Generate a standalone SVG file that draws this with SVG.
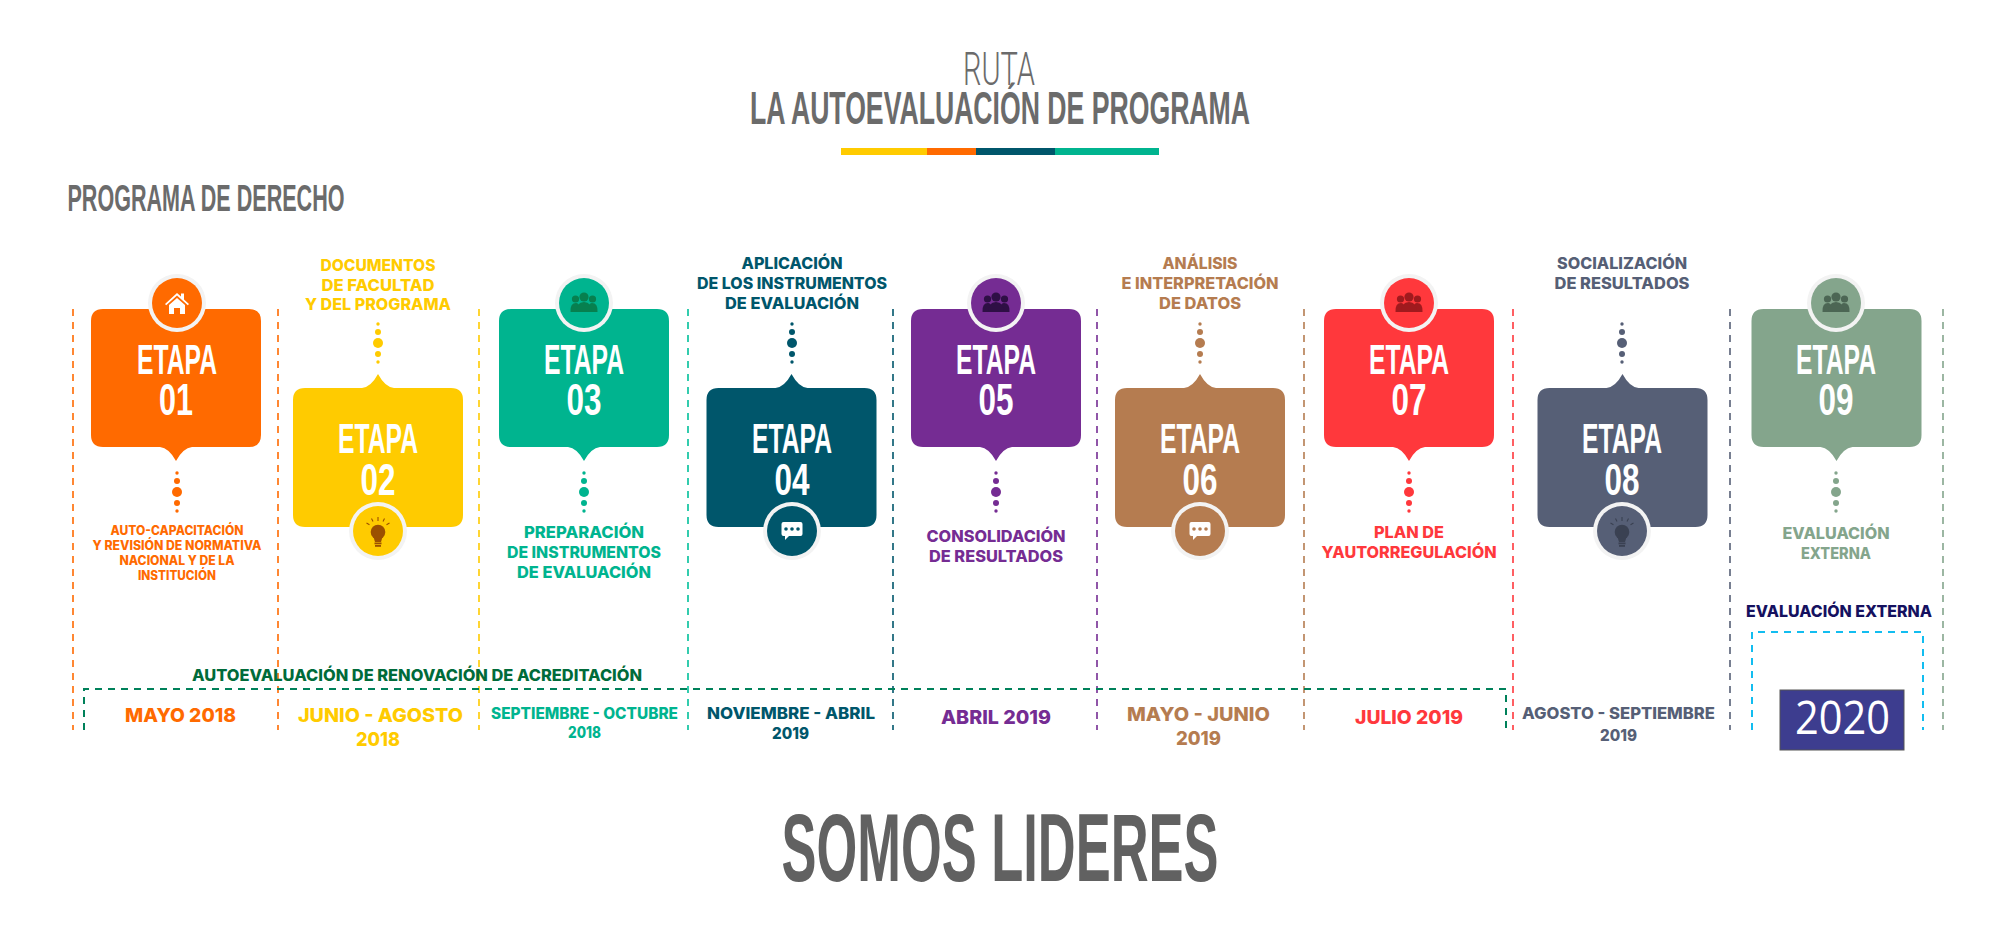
<svg xmlns="http://www.w3.org/2000/svg" xmlns:xlink="http://www.w3.org/1999/xlink" width="2000" height="948" viewBox="0 0 2000 948">
<style>
.h{font-family:"Liberation Sans Narrow","Liberation Sans",sans-serif;font-weight:700;text-anchor:middle}
.et{font-size:42px;fill:#fff}
.no{font-size:44px;fill:#fff}
.m{font-family:Inter,"Liberation Sans",sans-serif;font-weight:800;text-anchor:middle}
.s{font-size:16px}.xs{font-size:12.5px}.d{font-size:19px}.ds{font-size:15.5px}
.dash{fill:none;stroke-width:1.6;stroke-dasharray:7 6}
.ring{fill:#f3f3f3}
.c1{fill:#ff6a00}.c2{fill:#ffcb00}.c3{fill:#00b48f}.c4{fill:#00566b}.c5{fill:#752c93}.c6{fill:#b57c50}.c7{fill:#ff383c}.c8{fill:#565f76}.c9{fill:#84a58c}
</style>
<defs>
<path id="boxdown" d="M-73 309H73Q85 309 85 321V435Q85 447 73 447H16Q7 448 0 461Q-7 448 -16 447H-73Q-85 447 -85 435V321Q-85 309 -73 309Z"/>
<path id="boxup" d="M-73 388H-16Q-7 387 0 374Q7 387 16 388H73Q85 388 85 400V515Q85 527 73 527H-73Q-85 527 -85 515V400Q-85 388 -73 388Z"/>
<g id="dots"><circle cy="-19" r="1.7"/><circle cy="-11" r="3"/><circle r="5"/><circle cy="11" r="3"/><circle cy="19" r="1.7"/></g>
<g id="people"><circle cx="-8.5" cy="-4" r="3.6"/><circle cx="8.5" cy="-4" r="3.6"/><path d="M-13.5 9Q-14 0 -8 0Q-5 0 -5 4V9Z"/><path d="M13.5 9Q14 0 8 0Q5 0 5 4V9Z"/><circle cy="-6" r="4.6"/><path d="M-7 9Q-8 -1 0 -1Q8 -1 7 9Z"/></g>
<g id="bulb"><circle cy="1" r="7.3"/><path d="M-4.5 6H4.5L3 11H-3Z"/><rect x="-3.5" y="11.5" width="7" height="1.8"/><rect x="-3" y="14" width="6" height="1.8"/><path d="M0 -14V-10M-6.5 -12.5L-5 -9.5M6.5 -12.5L5 -9.5M-11.5 -8L-8.5 -6.3M11.5 -8L8.5 -6.3" fill="none" stroke="currentColor" stroke-width="1.1"/></g>
<g id="chat"><path d="M-8.5 -8H8.5Q10.5 -8 10.5 -6V4Q10.5 6 8.5 6H-3L-7 10V6H-8.5Q-10.5 6 -10.5 4V-6Q-10.5 -8 -8.5 -8Z" fill="#fff"/><circle cx="-6" cy="-1" r="1.8"/><circle cy="-1" r="1.8"/><circle cx="6" cy="-1" r="1.8"/></g>
</defs>
<rect width="2000" height="948" fill="#fff"/>

<g id="titulo">
<text x="999" y="85" text-anchor="middle" font-family="Roboto,'Liberation Sans',sans-serif" font-weight="300" font-size="46" fill="#6b6b6b" textLength="72" lengthAdjust="spacingAndGlyphs">RUTA</text>
<text x="1000" y="124" class="h" style="font-size:46px" fill="#6b6b6b" textLength="500" lengthAdjust="spacingAndGlyphs">LA AUTOEVALUACIÓN DE PROGRAMA</text>
<rect x="841" y="148" width="86" height="7" class="c2"/><rect x="927" y="148" width="49" height="7" class="c1"/><rect x="976" y="148" width="79" height="7" class="c4"/><rect x="1055" y="148" width="104" height="7" class="c3"/>
<text x="206" y="211" class="h" style="font-size:36px" fill="#6b6b6b" textLength="277" lengthAdjust="spacingAndGlyphs">PROGRAMA DE DERECHO</text>
</g>

<g id="conectores" class="dash">
<path d="M73 309V730" stroke="#ff6a00"/><path d="M278 309V730" stroke="#ff6a00"/><path d="M479 309V730" stroke="#ffcb00"/><path d="M688 309V730" stroke="#00c09a"/><path d="M893 309V730" stroke="#00566b"/><path d="M1097 309V730" stroke="#752c93"/><path d="M1304 309V730" stroke="#b57c50"/><path d="M1513 309V730" stroke="#ff383c"/><path d="M1730 309V730" stroke="#565f76"/><path d="M1943 309V730" stroke="#84a58c"/>
<path d="M84 730V689H1506V730" stroke="#00815a" stroke-width="2"/>
<path d="M1752 730V632H1923V730" stroke="#12bdf0" stroke-width="2"/>
</g>

<g id="etapa01"><use xlink:href="#boxdown" href="#boxdown" x="176" class="c1"/><circle cx="177" cy="303" r="29" class="ring"/><circle cx="177" cy="303" r="25" class="c1"/>
<path d="M165 304L177 293L181 296.5V293.5H184V299.5L189 304L187.8 305.2L177 295.5L166.2 305.2ZM169 305L177 298L185 305V314H180V308H174V314H169Z" fill="#fff"/>
<text x="177" y="374" class="h et" textLength="80" lengthAdjust="spacingAndGlyphs">ETAPA</text><text x="176" y="415" class="h no" textLength="34" lengthAdjust="spacingAndGlyphs">01</text>
<use xlink:href="#dots" href="#dots" x="177" y="492" class="c1"/>
<g class="m xs c1"><text x="177" y="535" textLength="133" lengthAdjust="spacingAndGlyphs">AUTO-CAPACITACIÓN</text><text x="177" y="550" textLength="169" lengthAdjust="spacingAndGlyphs">Y REVISIÓN DE NORMATIVA</text><text x="177" y="565" textLength="115" lengthAdjust="spacingAndGlyphs">NACIONAL Y DE LA</text><text x="177" y="580" textLength="78" lengthAdjust="spacingAndGlyphs">INSTITUCIÓN</text></g></g>

<g id="etapa02"><use xlink:href="#boxup" href="#boxup" x="378" class="c2"/><circle cx="378" cy="531" r="29" class="ring"/><circle cx="378" cy="531" r="25" class="c2"/>
<use xlink:href="#bulb" href="#bulb" x="378" y="531" fill="#9c5000" color="#9c5000"/>
<text x="378" y="453" class="h et" textLength="80" lengthAdjust="spacingAndGlyphs">ETAPA</text><text x="378" y="495" class="h no" textLength="35" lengthAdjust="spacingAndGlyphs">02</text>
<use xlink:href="#dots" href="#dots" x="378" y="343" class="c2"/>
<g class="m s c2"><text x="378" y="271" textLength="115" lengthAdjust="spacingAndGlyphs">DOCUMENTOS</text><text x="378" y="291" textLength="113" lengthAdjust="spacingAndGlyphs">DE FACULTAD</text><text x="378" y="310" textLength="146" lengthAdjust="spacingAndGlyphs">Y DEL PROGRAMA</text></g></g>

<g id="etapa03"><use xlink:href="#boxdown" href="#boxdown" x="584" class="c3"/><circle cx="584" cy="303" r="29" class="ring"/><circle cx="584" cy="303" r="25" class="c3"/>
<use xlink:href="#people" href="#people" x="584" y="303" fill="#07804f"/>
<text x="584" y="374" class="h et" textLength="80" lengthAdjust="spacingAndGlyphs">ETAPA</text><text x="584" y="415" class="h no" textLength="35" lengthAdjust="spacingAndGlyphs">03</text>
<use xlink:href="#dots" href="#dots" x="584" y="492" class="c3"/>
<g class="m s c3"><text x="584" y="538" textLength="120" lengthAdjust="spacingAndGlyphs">PREPARACIÓN</text><text x="584" y="558" textLength="154" lengthAdjust="spacingAndGlyphs">DE INSTRUMENTOS</text><text x="584" y="578" textLength="134" lengthAdjust="spacingAndGlyphs">DE EVALUACIÓN</text></g></g>

<g id="etapa04"><use xlink:href="#boxup" href="#boxup" x="791.5" class="c4"/><circle cx="792" cy="531" r="29" class="ring"/><circle cx="792" cy="531" r="25" class="c4"/>
<use xlink:href="#chat" href="#chat" x="792" y="530" fill="#00566b"/>
<text x="792" y="453" class="h et" textLength="80" lengthAdjust="spacingAndGlyphs">ETAPA</text><text x="792" y="495" class="h no" textLength="35" lengthAdjust="spacingAndGlyphs">04</text>
<use xlink:href="#dots" href="#dots" x="792" y="343" class="c4"/>
<g class="m s c4"><text x="792" y="269" textLength="101" lengthAdjust="spacingAndGlyphs">APLICACIÓN</text><text x="792" y="289" textLength="190" lengthAdjust="spacingAndGlyphs">DE LOS INSTRUMENTOS</text><text x="792" y="309" textLength="134" lengthAdjust="spacingAndGlyphs">DE EVALUACIÓN</text></g></g>

<g id="etapa05"><use xlink:href="#boxdown" href="#boxdown" x="996" class="c5"/><circle cx="996" cy="303" r="29" class="ring"/><circle cx="996" cy="303" r="25" class="c5"/>
<use xlink:href="#people" href="#people" x="996" y="303" fill="#2e0f45"/>
<text x="996" y="374" class="h et" textLength="80" lengthAdjust="spacingAndGlyphs">ETAPA</text><text x="996" y="415" class="h no" textLength="35" lengthAdjust="spacingAndGlyphs">05</text>
<use xlink:href="#dots" href="#dots" x="996" y="492" class="c5"/>
<g class="m s c5"><text x="996" y="542" textLength="139" lengthAdjust="spacingAndGlyphs">CONSOLIDACIÓN</text><text x="996" y="562" textLength="134" lengthAdjust="spacingAndGlyphs">DE RESULTADOS</text></g></g>

<g id="etapa06"><use xlink:href="#boxup" href="#boxup" x="1200" class="c6"/><circle cx="1200" cy="531" r="29" class="ring"/><circle cx="1200" cy="531" r="25" class="c6"/>
<use xlink:href="#chat" href="#chat" x="1200" y="530" fill="#b57c50"/>
<text x="1200" y="453" class="h et" textLength="80" lengthAdjust="spacingAndGlyphs">ETAPA</text><text x="1200" y="495" class="h no" textLength="35" lengthAdjust="spacingAndGlyphs">06</text>
<use xlink:href="#dots" href="#dots" x="1200" y="343" class="c6"/>
<g class="m s c6"><text x="1200" y="269" textLength="75" lengthAdjust="spacingAndGlyphs">ANÁLISIS</text><text x="1200" y="289" textLength="157" lengthAdjust="spacingAndGlyphs">E INTERPRETACIÓN</text><text x="1200" y="309" textLength="82" lengthAdjust="spacingAndGlyphs">DE DATOS</text></g></g>

<g id="etapa07"><use xlink:href="#boxdown" href="#boxdown" x="1409" class="c7"/><circle cx="1409" cy="303" r="29" class="ring"/><circle cx="1409" cy="303" r="25" class="c7"/>
<use xlink:href="#people" href="#people" x="1409" y="303" fill="#a01a1e"/>
<text x="1409" y="374" class="h et" textLength="80" lengthAdjust="spacingAndGlyphs">ETAPA</text><text x="1409" y="415" class="h no" textLength="35" lengthAdjust="spacingAndGlyphs">07</text>
<use xlink:href="#dots" href="#dots" x="1409" y="492" class="c7"/>
<g class="m s c7"><text x="1409" y="538" textLength="70" lengthAdjust="spacingAndGlyphs">PLAN DE</text><text x="1409" y="558" textLength="175" lengthAdjust="spacingAndGlyphs">YAUTORREGULACIÓN</text></g></g>

<g id="etapa08"><use xlink:href="#boxup" href="#boxup" x="1622.500" class="c8"/><circle cx="1622" cy="531" r="29" class="ring"/><circle cx="1622" cy="531" r="25" class="c8"/>
<use xlink:href="#bulb" href="#bulb" x="1622" y="531" fill="#3a4152" color="#3a4152"/>
<text x="1622" y="453" class="h et" textLength="80" lengthAdjust="spacingAndGlyphs">ETAPA</text><text x="1622" y="495" class="h no" textLength="35" lengthAdjust="spacingAndGlyphs">08</text>
<use xlink:href="#dots" href="#dots" x="1622" y="343" class="c8"/>
<g class="m s c8"><text x="1622" y="269" textLength="130" lengthAdjust="spacingAndGlyphs">SOCIALIZACIÓN</text><text x="1622" y="289" textLength="135" lengthAdjust="spacingAndGlyphs">DE RESULTADOS</text></g></g>

<g id="etapa09"><use xlink:href="#boxdown" href="#boxdown" x="1836.500" class="c9"/><circle cx="1836" cy="303" r="29" class="ring"/><circle cx="1836" cy="303" r="25" class="c9"/>
<use xlink:href="#people" href="#people" x="1836" y="303" fill="#4c6654"/>
<text x="1836" y="374" class="h et" textLength="80" lengthAdjust="spacingAndGlyphs">ETAPA</text><text x="1836" y="415" class="h no" textLength="35" lengthAdjust="spacingAndGlyphs">09</text>
<use xlink:href="#dots" href="#dots" x="1836" y="492" class="c9"/>
<g class="m s c9"><text x="1836" y="539" textLength="107" lengthAdjust="spacingAndGlyphs">EVALUACIÓN</text><text x="1836" y="559" textLength="70" lengthAdjust="spacingAndGlyphs">EXTERNA</text></g></g>

<g id="fechas">
<text x="417" y="681" class="m s" fill="#006b3a" textLength="450" lengthAdjust="spacingAndGlyphs">AUTOEVALUACIÓN DE RENOVACIÓN DE ACREDITACIÓN</text>
<text x="180.500" y="722" class="m d c1" textLength="111" lengthAdjust="spacingAndGlyphs">MAYO 2018</text>
<text x="380.500" y="722" class="m d c2" textLength="165" lengthAdjust="spacingAndGlyphs">JUNIO - AGOSTO</text><text x="378" y="746" class="m d c2" textLength="44" lengthAdjust="spacingAndGlyphs">2018</text>
<text x="584.500" y="719" class="m ds c3" textLength="187" lengthAdjust="spacingAndGlyphs">SEPTIEMBRE - OCTUBRE</text><text x="584.500" y="738" class="m ds c3" textLength="33" lengthAdjust="spacingAndGlyphs">2018</text>
<text x="791" y="719" class="m s c4" textLength="168" lengthAdjust="spacingAndGlyphs">NOVIEMBRE - ABRIL</text><text x="790.500" y="739" class="m s c4" textLength="37" lengthAdjust="spacingAndGlyphs">2019</text>
<text x="996" y="724" class="m d c5" textLength="110" lengthAdjust="spacingAndGlyphs">ABRIL 2019</text>
<text x="1198.500" y="721" class="m d c6" textLength="143" lengthAdjust="spacingAndGlyphs">MAYO - JUNIO</text><text x="1198.500" y="745" class="m d c6" textLength="45" lengthAdjust="spacingAndGlyphs">2019</text>
<text x="1409" y="724" class="m d c7" textLength="108" lengthAdjust="spacingAndGlyphs">JULIO 2019</text>
<text x="1618.500" y="719" class="m s c8" textLength="193" lengthAdjust="spacingAndGlyphs">AGOSTO - SEPTIEMBRE</text><text x="1618.500" y="741" class="m s c8" textLength="37" lengthAdjust="spacingAndGlyphs">2019</text>
<text x="1839" y="617" class="m s" fill="#15115f" textLength="186" lengthAdjust="spacingAndGlyphs">EVALUACIÓN EXTERNA</text>
</g>
<g id="anio"><rect x="1780" y="690" width="124" height="60" fill="#3d3d8f" stroke="#555" stroke-width="1"/>
<text x="1842.500" y="734" font-family="'Open Sans',sans-serif" font-size="46" fill="#fff" text-anchor="middle" textLength="95" lengthAdjust="spacingAndGlyphs">2020</text></g>
<text id="lema" x="1000" y="881" class="h" style="font-size:96px" fill="#616161" textLength="437" lengthAdjust="spacingAndGlyphs">SOMOS LIDERES</text>
</svg>
